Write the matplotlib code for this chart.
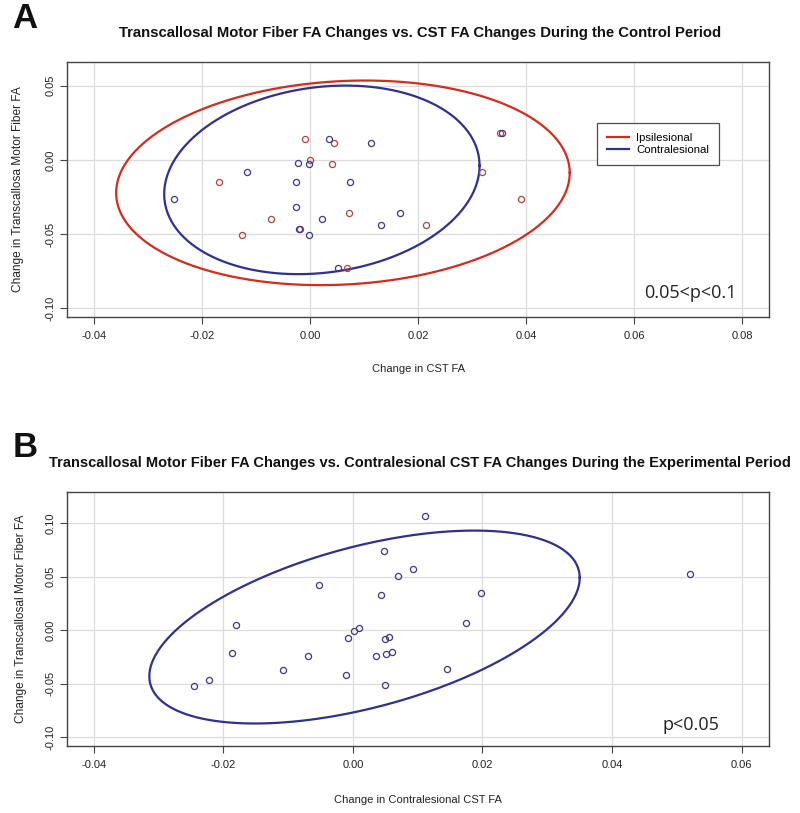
import numpy as np
import matplotlib
matplotlib.use("Agg")
import matplotlib.pyplot as plt

plt.rcParams['font.family'] = ['Liberation Sans', 'DejaVu Sans']

# ---------------- Panel A data ----------------
ipsi_x = [-0.0009, 0.0044, 0.0000, 0.0041, -0.0168, 0.0072, -0.0073, -0.0019,
          -0.0126, 0.0068, 0.0215, 0.0352, 0.0319, 0.0390]
ipsi_y = [0.0140, 0.0113, 0.0000, -0.0025, -0.0147, -0.0356, -0.0397, -0.0464,
          -0.0507, -0.0728, -0.0442, 0.0180, -0.0081, -0.0264]
contra_x = [0.0036, 0.0113, -0.0023, -0.0002, -0.0117, -0.0025, 0.0074, -0.0251,
            -0.0026, 0.0023, -0.0020, -0.0002, 0.0132, 0.0167, 0.0051, 0.0355]
contra_y = [0.0140, 0.0113, -0.0020, -0.0025, -0.0081, -0.0147, -0.0147, -0.0264,
            -0.0316, -0.0397, -0.0464, -0.0507, -0.0442, -0.0356, -0.0728, 0.0180]
# ellipse: center x, center y, half-width x, half-height y, correlation
ipsi_ellipse = [0.0061, -0.0155, 0.0420, 0.0690, 0.098]
contra_ellipse = [0.0022, -0.0135, 0.0292, 0.0636, 0.150]
a_xticks = [-0.04, -0.02, 0.00, 0.02, 0.04, 0.06, 0.08]
a_xticklabels = ['-0.04', '-0.02', '0.00', '0.02', '0.04', '0.06', '0.08']
a_yticks = [-0.10, -0.05, 0.00, 0.05]
a_yticklabels = ['-0.10', '-0.05', '0.00', '0.05']

# ---------------- Panel B data ----------------
b_x = [0.0112, 0.0048, 0.0093, 0.0069, -0.0052, 0.0043, -0.0181, 0.0010, 0.0001,
       -0.0007, 0.0049, 0.0056, -0.0186, -0.0069, 0.0036, 0.0051, 0.0061, -0.0108,
       -0.0011, -0.0222, -0.0245, 0.0049, 0.0198, 0.0174, 0.0145, 0.0520]
b_y = [0.1066, 0.0742, 0.0573, 0.0502, 0.0424, 0.0327, 0.0050, 0.0022, -0.0003,
       -0.0072, -0.0081, -0.0065, -0.0215, -0.0243, -0.0237, -0.0224, -0.0203, -0.0371,
       -0.0421, -0.0461, -0.0524, -0.0508, 0.0349, 0.0072, -0.0365, 0.0524]
b_ellipse = [0.0018, 0.0030, 0.0332, 0.0900, 0.51]
b_xticks = [-0.04, -0.02, 0.00, 0.02, 0.04, 0.06]
b_xticklabels = ['-0.04', '-0.02', '0.00', '0.02', '0.04', '0.06']
b_yticks = [-0.10, -0.05, 0.00, 0.05, 0.10]
b_yticklabels = ['-0.10', '-0.05', '0.00', '0.05', '0.10']

RED_LINE = '#d52b1e'
BLUE_LINE = '#2e3190'
RED_PT = '#b5453a'
BLUE_PT = '#3a3a88'


def ellipse_xy(p, n=300):
    cx, cy, sx, sy, rho = p
    t = np.linspace(0, 2 * np.pi, n)
    x = cx + sx * np.cos(t)
    y = cy + sy * (rho * np.cos(t) + np.sqrt(1 - rho ** 2) * np.sin(t))
    return x, y


def style_axes(ax, xticks, xtl, yticks, ytl):
    ax.set_xticks(xticks)
    ax.set_xticklabels(xtl)
    ax.set_yticks(yticks)
    ax.set_yticklabels(ytl, rotation=90, va='center')
    ax.grid(True, color='#dcdcdc', lw=0.9)
    ax.set_axisbelow(True)
    for s in ax.spines.values():
        s.set_color('#444444')
        s.set_linewidth(1.0)
    ax.tick_params(direction='out', length=5, width=0.8, color='#444444',
                   labelsize=8, pad=5, labelcolor='#222222')
    ax.tick_params(axis='y', pad=3.5)


fig = plt.figure(figsize=(8.0, 8.13), dpi=100)
W, H = 800, 813

# ---------- Panel A ----------
axA = fig.add_axes([67 / W, 1 - 317 / H, 702 / W, 255 / H])
style_axes(axA, a_xticks, a_xticklabels, a_yticks, a_yticklabels)
ex, ey = ellipse_xy(ipsi_ellipse)
axA.plot(ex, ey, color=RED_LINE, lw=1.6, label='Ipsilesional')
ex, ey = ellipse_xy(contra_ellipse)
axA.plot(ex, ey, color=BLUE_LINE, lw=1.6, label='Contralesional')
axA.plot(ipsi_x, ipsi_y, 'o', mfc='none', mec=RED_PT, mew=0.9, ms=4.4)
axA.plot(contra_x, contra_y, 'o', mfc='none', mec=BLUE_PT, mew=0.9, ms=4.4)
axA.set_xlim(-0.045, 0.085)
axA.set_ylim(-0.106, 0.066)
axA.set_xlabel('Change in CST FA', fontsize=8, color='#222222')
axA.set_ylabel('Change in Transcallosa Motor Fiber FA', fontsize=8.6, color='#222222')
axA.xaxis.set_label_coords(0.5, -0.204)
axA.yaxis.set_label_coords(-0.070, 0.5)
axA.yaxis.label.set_va('center')
axA.xaxis.label.set_va('center')
leg = axA.legend(loc='upper left', bbox_to_anchor=((597 - 67) / 702, (317 - 123) / 255),
                 fontsize=8.2, frameon=True, fancybox=False, edgecolor='#222222',
                 handlelength=2.0, handletextpad=0.6, borderpad=0.85, labelspacing=0.2,
                 borderaxespad=0)
leg.get_frame().set_linewidth(0.9)
axA.text(0.954, 0.094, '0.05<p<0.1', transform=axA.transAxes, ha='right', va='center',
         fontsize=13, family='Open Sans', color='#222222')

# ---------- Panel B ----------
axB = fig.add_axes([67 / W, 1 - 746 / H, 702 / W, 254 / H])
style_axes(axB, b_xticks, b_xticklabels, b_yticks, b_yticklabels)
ex, ey = ellipse_xy(b_ellipse)
axB.plot(ex, ey, color=BLUE_LINE, lw=1.6)
axB.plot(b_x, b_y, 'o', mfc='none', mec=BLUE_PT, mew=0.9, ms=4.4)
axB.set_xlim(-0.0441, 0.0642)
axB.set_ylim(-0.108, 0.129)
axB.set_xlabel('Change in Contralesional CST FA', fontsize=8, color='#222222')
axB.set_ylabel('Change in Transcallosal Motor Fiber FA', fontsize=8.6, color='#222222')
axB.xaxis.set_label_coords(0.5, -0.2126)
axB.yaxis.set_label_coords(-0.0655, 0.5)
axB.yaxis.label.set_va('center')
axB.xaxis.label.set_va('center')
axB.text(0.930, 0.083, 'p<0.05', transform=axB.transAxes, ha='right', va='center',
         fontsize=13, family='Open Sans', color='#222222')

# ---------- Titles & panel letters ----------
fig.text(420 / W, 1 - 33 / H,
         'Transcallosal Motor Fiber FA Changes vs. CST FA Changes During the Control Period',
         ha='center', va='center', fontsize=10.7, fontweight='bold', color='#111111')
fig.text(420 / W, 1 - 463 / H,
         'Transcallosal Motor Fiber FA Changes vs. Contralesional CST FA Changes During the Experimental Period',
         ha='center', va='center', fontsize=10.5, fontweight='bold', color='#111111')
fig.text(25 / W, 1 - 19 / H, 'A', ha='center', va='center', fontsize=25,
         fontweight='bold', color='#111111')
fig.text(25 / W, 1 - 447 / H, 'B', ha='center', va='center', fontsize=25,
         fontweight='bold', color='#111111')

fig.savefig('out.png', dpi=100, facecolor='white')
